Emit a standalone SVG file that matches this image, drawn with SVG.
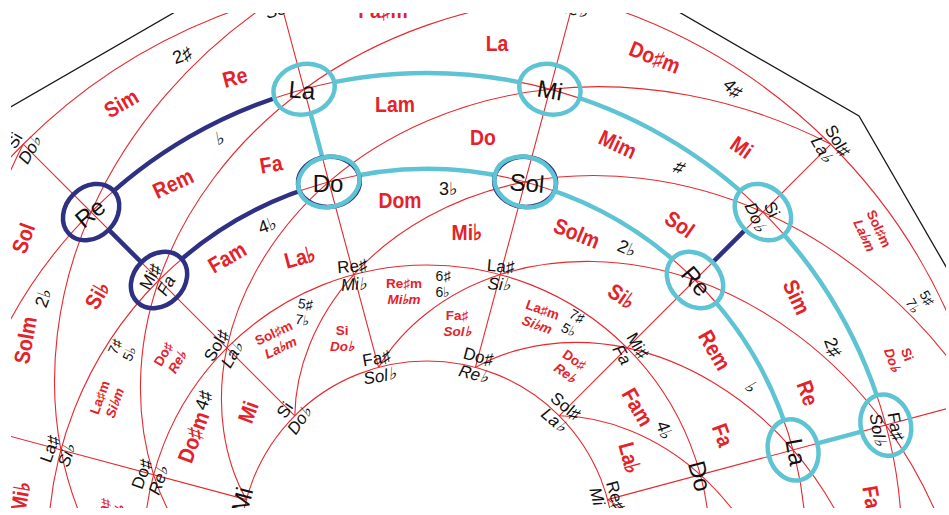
<svg xmlns="http://www.w3.org/2000/svg" width="949" height="515" viewBox="0 0 949 515">
<style>
.rl{fill:none;stroke:#e52a2f;stroke-width:1.1}
.poly{fill:none;stroke:#1a1a1a;stroke-width:1.3}
.cy{fill:none;stroke:#5ec4d4;stroke-width:4.5;stroke-linecap:round}
.nv{fill:none;stroke:#2e3183;stroke-width:4.5;stroke-linecap:round}
.ec{fill:none;stroke:#5ec4d4;stroke-width:4.5}
.en{fill:none;stroke:#2e3183;stroke-width:4.5}
.n{font-family:"Liberation Sans",Arial,sans-serif;fill:#111;text-anchor:middle}
.nb{font-size:24px}
.ns{font-size:17px}
.it{font-style:italic}
.k{font-family:"Liberation Sans",Arial,sans-serif;font-weight:bold;fill:#e4222a;text-anchor:middle}
.kb{font-size:22px}
.ks{font-size:13.5px}
.sg{font-family:"Liberation Sans",Arial,sans-serif;fill:#111;text-anchor:middle;font-size:18px}
.sgs{font-size:14px}
</style>
<defs>
<clipPath id="frame"><rect x="11" y="13" width="935" height="495"/></clipPath>
<mask id="holes" maskUnits="userSpaceOnUse" x="0" y="0" width="949" height="515">
<rect x="0" y="0" width="949" height="515" fill="#fff"/>
<g fill="#000">
<ellipse cx="91.1" cy="212.1" rx="31" ry="25" transform="rotate(-45 91.1 212.1)"/>
<ellipse cx="159" cy="280" rx="31" ry="25" transform="rotate(-45 159 280)"/>
<ellipse cx="304.1" cy="89.2" rx="31" ry="25" transform="rotate(-15 304.1 89.2)"/>
<ellipse cx="549.9" cy="89.2" rx="31" ry="25" transform="rotate(15 549.9 89.2)"/>
<ellipse cx="762.9" cy="212.1" rx="31" ry="25" transform="rotate(45 762.9 212.1)"/>
<ellipse cx="885.8" cy="425.1" rx="31" ry="25" transform="rotate(75 885.8 425.1)"/>
<ellipse cx="328.9" cy="181.9" rx="31" ry="25" transform="rotate(-15 328.9 181.9)"/>
<ellipse cx="525.1" cy="181.9" rx="31" ry="25" transform="rotate(15 525.1 181.9)"/>
<ellipse cx="695" cy="280" rx="31" ry="25" transform="rotate(45 695 280)"/>
<ellipse cx="793.1" cy="449.9" rx="31" ry="25" transform="rotate(75 793.1 449.9)"/>
</g>
</mask>
</defs>
<rect width="949" height="515" fill="#fff"/>
<g clip-path="url(#frame)">
<g id="grid">
<polyline class="poly" points="-163.2,389.9 -5,116 268.9,-42.2 585.1,-42.2 859,116 1017.2,389.9"/>
<g class="rl">
<circle cx="427" cy="548" r="571"/>
<circle cx="427" cy="548" r="475"/>
<circle cx="427" cy="548" r="379"/>
<circle cx="427" cy="548" r="283"/>
<circle cx="427" cy="548" r="187"/>
<line x1="246.4" y1="499.6" x2="-124.5" y2="400.2"/>
<line x1="294.8" y1="415.8" x2="23.2" y2="144.2"/>
<line x1="378.6" y1="367.4" x2="279.2" y2="-3.5"/>
<line x1="475.4" y1="367.4" x2="574.8" y2="-3.5"/>
<line x1="559.2" y1="415.8" x2="830.8" y2="144.2"/>
<line x1="607.6" y1="499.6" x2="978.5" y2="400.2"/>
<path d="M607.6,499.6 C646.9,522.8 682.3,565.2 700.4,621.2"/>
<path d="M559.2,415.8 C604.9,416.3 656.7,435.4 700.4,474.8 C744.1,514.2 779.3,574 793.1,646.1"/>
<path d="M475.4,367.4 C515.2,344.9 569.6,335.6 627.1,347.9 C684.6,360.2 745.1,394.4 793.1,449.9 C841.1,505.4 876.4,582.5 885.8,670.9"/>
<path d="M378.6,367.4 C401.8,328.1 444.2,292.7 500.2,274.6 C556.2,256.5 625.7,255.9 695,280 C764.3,304.1 833.4,353.3 885.8,425.1 C938.2,496.9 973.4,591.3 978.5,695.8"/>
<path d="M294.8,415.8 C295.3,370.1 314.4,318.3 353.8,274.6 C393.2,230.9 453,195.7 525.1,181.9 C597.2,168.1 681.7,176.1 762.9,212.1 C844.1,248.1 921.8,312.3 978.5,400.2"/>
<path d="M246.4,499.6 C223.9,459.8 214.6,405.4 226.9,347.9 C239.2,290.4 273.4,229.9 328.9,181.9 C384.4,133.9 461.5,98.6 549.9,89.2 C638.3,79.8 737.8,96.4 830.8,144.2"/>
<path d="M246.4,596.4 C207.1,573.2 171.7,530.8 153.6,474.8 C135.5,418.8 134.9,349.3 159,280 C183.1,210.7 232.3,141.6 304.1,89.2 C375.9,36.8 470.3,1.6 574.8,-3.5"/>
<path d="M153.6,621.2 C109.9,581.8 74.7,522 60.9,449.9 C47.1,377.8 55.1,293.3 91.1,212.1 C127.1,130.9 191.3,53.2 279.2,-3.5"/>
<path d="M60.9,646.1 C12.9,590.6 -22.4,513.5 -31.8,425.1 C-41.2,336.7 -24.6,237.2 23.2,144.2"/>
</g>
</g>
<g id="connectors" mask="url(#holes)">
<path class="nv" d="M91.1,212.1 A475,475 0 0 1 304.1,89.2"/>
<path class="nv" d="M91.1,212.1 L159,280"/>
<path class="nv" d="M159,280 A379,379 0 0 1 328.9,181.9"/>
<path class="nv" d="M762.9,212.1 L695,280"/>
<path class="cy" d="M304.1,89.2 A475,475 0 0 1 549.9,89.2 A475,475 0 0 1 762.9,212.1 A475,475 0 0 1 885.8,425.1"/>
<path class="cy" d="M304.1,89.2 L328.9,181.9"/>
<path class="cy" d="M328.9,181.9 A379,379 0 0 1 525.1,181.9 A379,379 0 0 1 695,280 A379,379 0 0 1 793.1,449.9"/>
<path class="cy" d="M793.1,449.9 L885.8,425.1"/>
</g>
<g id="keys">
<g class="k kb">
<text transform="translate(121,103) rotate(-30) scale(0.88,1)" y="8">Sim</text>
<text transform="translate(235,77) rotate(-15) scale(0.88,1)" y="8">Re</text>
<text transform="translate(497,43) scale(0.88,1)" y="8">La</text>
<text transform="translate(655,57) rotate(22) scale(0.88,1)" y="8">Do♯m</text>
<text transform="translate(742,147) rotate(35) scale(0.88,1)" y="8">Mi</text>
<text transform="translate(173,183) rotate(-25) scale(0.88,1)" y="8">Rem</text>
<text transform="translate(271,164) rotate(-10) scale(0.88,1)" y="8">Fa</text>
<text transform="translate(395,104) scale(0.88,1)" y="8">Lam</text>
<text transform="translate(483,137) scale(0.88,1)" y="8">Do</text>
<text transform="translate(618,144) rotate(25) scale(0.88,1)" y="8">Mim</text>
<text transform="translate(680,224) rotate(35) scale(0.88,1)" y="8">Sol</text>
<text transform="translate(797,297) rotate(65) scale(0.88,1)" y="8">Sim</text>
<text transform="translate(808,393) rotate(70) scale(0.88,1)" y="8">Re</text>
<text transform="translate(23,238) rotate(-70) scale(0.88,1)" y="8">Sol</text>
<text transform="translate(97,295) rotate(-60) scale(0.88,1)" y="8">Si♭</text>
<text transform="translate(227,257) rotate(-30) scale(0.88,1)" y="8">Fam</text>
<text transform="translate(300,257) rotate(-15) scale(0.88,1)" y="8">La♭</text>
<text transform="translate(400,200) scale(0.88,1)" y="8">Dom</text>
<text transform="translate(467,232) scale(0.88,1)" y="8">Mi♭</text>
<text transform="translate(577,233) rotate(22) scale(0.88,1)" y="8">Solm</text>
<text transform="translate(622,296) rotate(35) scale(0.88,1)" y="8">Si♭</text>
<text transform="translate(715,350) rotate(60) scale(0.88,1)" y="8">Rem</text>
<text transform="translate(638,407) rotate(60) scale(0.88,1)" y="8">Fam</text>
<text transform="translate(723,435) rotate(70) scale(0.88,1)" y="8">Fa</text>
<text transform="translate(630,458) rotate(75) scale(0.88,1)" y="8">La♭</text>
<text transform="translate(25,340) rotate(-80) scale(0.88,1)" y="8">Solm</text>
<text transform="translate(193,437) rotate(-70) scale(0.88,1)" y="8">Do♯m</text>
<text transform="translate(248,412) rotate(-70) scale(0.88,1)" y="8">Mi</text>
<text transform="translate(872,497) rotate(80) scale(0.88,1)" y="8">Fa</text>
<text transform="translate(20,497) rotate(-80) scale(0.88,1)" y="8">Mi♭</text>
<text transform="translate(383,10) scale(0.88,1)" y="8">Fa♯m</text>
</g>
<g class="k ks">
<text transform="translate(872,232) rotate(65)"><tspan x="0" y="-3">Sol♯m</tspan><tspan x="0" y="13" class="it">La♭m</tspan></text>
<text transform="translate(900,357) rotate(70)"><tspan x="0" y="-3">Si</tspan><tspan x="0" y="13" class="it">Do♭</tspan></text>
<text transform="translate(277,340) rotate(-25)"><tspan x="0" y="-3">Sol♯m</tspan><tspan x="0" y="13" class="it">La♭m</tspan></text>
<text transform="translate(342,338)"><tspan x="0" y="-3">Si</tspan><tspan x="0" y="13" class="it">Do♭</tspan></text>
<text transform="translate(404,291)"><tspan x="0" y="-3">Re♯m</tspan><tspan x="0" y="13" class="it">Mi♭m</tspan></text>
<text transform="translate(457,323)"><tspan x="0" y="-3">Fa♯</tspan><tspan x="0" y="13" class="it">Sol♭</tspan></text>
<text transform="translate(540,317) rotate(20)"><tspan x="0" y="-3">La♯m</tspan><tspan x="0" y="13" class="it">Si♭m</tspan></text>
<text transform="translate(570,366) rotate(35)"><tspan x="0" y="-3">Do♯</tspan><tspan x="0" y="13" class="it">Re♭</tspan></text>
<text transform="translate(170,358) rotate(-60)"><tspan x="0" y="-3">Do♯</tspan><tspan x="0" y="13" class="it">Re♭</tspan></text>
<text transform="translate(107,400) rotate(-70)"><tspan x="0" y="-3">La♯m</tspan><tspan x="0" y="13" class="it">Si♭m</tspan></text>
<text transform="translate(110,512) rotate(-70)"><tspan x="0" y="-3">La♯</tspan><tspan x="0" y="13" class="it">Si♭</tspan></text>
</g>
<g class="sg">
<text transform="translate(182,55) rotate(-20)" y="6.5">2♯</text>
<text transform="translate(220,138) rotate(-10)" y="6.5">♭</text>
<text transform="translate(733,88) rotate(45)" y="6.5">4♯</text>
<text transform="translate(680,167) rotate(40)" y="6.5">♯</text>
<text transform="translate(267,225) rotate(-20)" y="6.5">4♭</text>
<text transform="translate(448,188)" y="6.5">3♭</text>
<text transform="translate(627,248) rotate(25)" y="6.5">2♭</text>
<text transform="translate(43,298) rotate(-70)" y="6.5">2♭</text>
<text transform="translate(752,387) rotate(60)" y="6.5">♭</text>
<text transform="translate(833,347) rotate(70)" y="6.5">2♯</text>
<text transform="translate(665,430) rotate(70)" y="6.5">4♭</text>
<text transform="translate(203,400) rotate(-70)" y="6.5">4♯</text>
</g>
<g class="sg sgs">
<text transform="translate(304,312) rotate(10)"><tspan x="0" y="-3">5♯</tspan><tspan x="0" y="13">7♭</tspan></text>
<text transform="translate(443,284)"><tspan x="0" y="-3">6♯</tspan><tspan x="0" y="13">6♭</tspan></text>
<text transform="translate(573,323) rotate(30)"><tspan x="0" y="-3">7♯</tspan><tspan x="0" y="13">5♭</tspan></text>
<text transform="translate(122,350) rotate(-65)"><tspan x="0" y="-3">7♯</tspan><tspan x="0" y="13">5♭</tspan></text>
<text transform="translate(920,302) rotate(60)"><tspan x="0" y="-3">5♯</tspan><tspan x="0" y="13">7♭</tspan></text>
</g>
</g>
<g id="node-si0l" class="n ns"><text transform="translate(22,145) rotate(-60)"><tspan x="0" y="-3">Si</tspan><tspan x="0" y="15" class="it">Do♭</tspan></text></g>
<g id="node-sol0" class="n ns"><text transform="translate(830,145) rotate(60)"><tspan x="0" y="-3">Sol♯</tspan><tspan x="0" y="15" class="it">La♭</tspan></text></g>
<g id="node-fa0" class="n ns"><text transform="translate(279,0) rotate(-15)"><tspan x="0" y="-3">Fa♯</tspan><tspan x="0" y="15" class="it">Sol♭</tspan></text></g>
<g id="node-do0" class="n ns"><text transform="translate(575,0) rotate(15)"><tspan x="0" y="-3">Do♯</tspan><tspan x="0" y="15" class="it">Re♭</tspan></text></g>
<g id="node-re1" class="n nb">
<ellipse class="en" cx="91.1" cy="212.1" rx="31" ry="25" transform="rotate(-45 91.1 212.1)"/>
<text transform="translate(90,213) rotate(-40)" y="8.5">Re</text></g>
<g id="node-la1" class="n nb">
<ellipse class="ec" cx="304.1" cy="89.2" rx="31" ry="25" transform="rotate(-15 304.1 89.2)"/>
<text transform="translate(302,90) rotate(5)" y="8.5">La</text></g>
<g id="node-mi1" class="n nb">
<ellipse class="ec" cx="549.9" cy="89.2" rx="31" ry="25" transform="rotate(15 549.9 89.2)"/>
<text transform="translate(550,90) rotate(10)" y="8.5">Mi</text></g>
<g id="node-si1" class="n ns">
<ellipse class="ec" cx="762.9" cy="212.1" rx="31" ry="25" transform="rotate(45 762.9 212.1)"/>
<text transform="translate(764,213) rotate(65)"><tspan x="0" y="-3">Si</tspan><tspan x="0" y="15" class="it">Do♭</tspan></text></g>
<g id="node-fa1" class="n ns">
<ellipse class="ec" cx="885.8" cy="425.1" rx="31" ry="25" transform="rotate(75 885.8 425.1)"/>
<text transform="translate(887,428) rotate(80)"><tspan x="0" y="-3">Fa♯</tspan><tspan x="0" y="15" class="it">Sol♭</tspan></text></g>
<g id="node-fa2" class="n ns">
<ellipse class="en" cx="159" cy="280" rx="31" ry="25" transform="rotate(-45 159 280)"/>
<text transform="translate(158,281) rotate(-60)"><tspan x="0" y="-3">Mi♯</tspan><tspan x="0" y="15" class="it">Fa</tspan></text></g>
<g id="node-do2" class="n nb">
<ellipse class="en" cx="328.9" cy="181.9" rx="31" ry="25" transform="rotate(-5 328.9 181.9)"/>
<ellipse class="ec" cx="328.9" cy="181.9" rx="31" ry="25" transform="rotate(-15 328.9 181.9)"/>
<text transform="translate(328,183)" y="8.5">Do</text></g>
<g id="node-sol2" class="n nb">
<ellipse class="en" cx="525.1" cy="181.9" rx="31" ry="25" transform="rotate(5 525.1 181.9)"/>
<ellipse class="ec" cx="525.1" cy="181.9" rx="31" ry="25" transform="rotate(15 525.1 181.9)"/>
<text transform="translate(527,183) rotate(5)" y="8.5">Sol</text></g>
<g id="node-re2" class="n nb">
<ellipse class="ec" cx="695" cy="280" rx="31" ry="25" transform="rotate(45 695 280)"/>
<text transform="translate(696,281) rotate(50)" y="8.5">Re</text></g>
<g id="node-la2" class="n nb">
<ellipse class="ec" cx="793.1" cy="449.9" rx="31" ry="25" transform="rotate(75 793.1 449.9)"/>
<text transform="translate(796,452) rotate(80)" y="8.5">La</text></g>
<g id="node-sib2" class="n ns"><text transform="translate(58,452) rotate(-70)"><tspan x="0" y="-3">La♯</tspan><tspan x="0" y="15" class="it">Si♭</tspan></text></g>
<g id="node-mib3" class="n ns"><text transform="translate(353,275) rotate(-5)"><tspan x="0" y="-3">Re♯</tspan><tspan x="0" y="15" class="it">Mi♭</tspan></text></g>
<g id="node-sib3" class="n ns"><text transform="translate(500,275) rotate(5)"><tspan x="0" y="-3">La♯</tspan><tspan x="0" y="15" class="it">Si♭</tspan></text></g>
<g id="node-lab3" class="n ns"><text transform="translate(224,350) rotate(-60)"><tspan x="0" y="-3">Sol♯</tspan><tspan x="0" y="15" class="it">La♭</tspan></text></g>
<g id="node-fa3" class="n ns"><text transform="translate(630,350) rotate(60)"><tspan x="0" y="-3">Mi♯</tspan><tspan x="0" y="15" class="it">Fa</tspan></text></g>
<g id="node-reb3" class="n ns"><text transform="translate(150,477) rotate(-70)"><tspan x="0" y="-3">Do♯</tspan><tspan x="0" y="15" class="it">Re♭</tspan></text></g>
<g id="node-do3" class="n nb"><text transform="translate(700,476) rotate(75)" y="8.5">Do</text></g>
<g id="node-dob4" class="n ns"><text transform="translate(292,415) rotate(-55)"><tspan x="0" y="-3">Si</tspan><tspan x="0" y="15" class="it">Do♭</tspan></text></g>
<g id="node-solb4" class="n ns"><text transform="translate(378,367) rotate(-10)"><tspan x="0" y="-3">Fa♯</tspan><tspan x="0" y="15" class="it">Sol♭</tspan></text></g>
<g id="node-reb4" class="n ns"><text transform="translate(476,365) rotate(15)"><tspan x="0" y="-3">Do♯</tspan><tspan x="0" y="15" class="it">Re♭</tspan></text></g>
<g id="node-lab4" class="n ns"><text transform="translate(560,413) rotate(40)"><tspan x="0" y="-3">Sol♯</tspan><tspan x="0" y="15" class="it">La♭</tspan></text></g>
<g id="node-mib4" class="n ns"><text transform="translate(607,498) rotate(75)"><tspan x="0" y="-3">Re♯</tspan><tspan x="0" y="15" class="it">Mi♭</tspan></text></g>
<g id="node-mi4" class="n nb"><text transform="translate(242,500) rotate(-75)" y="8.5">Mi</text></g>
</g>
</svg>
